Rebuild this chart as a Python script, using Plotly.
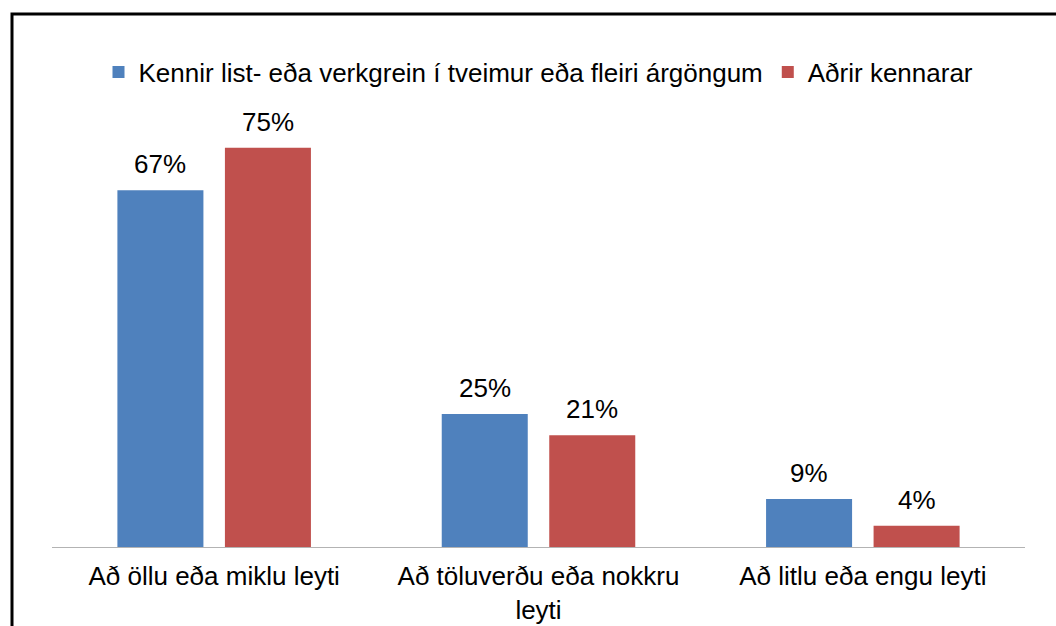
import plotly.graph_objects as go

categories = ["Að öllu eða miklu leyti", "Að töluverðu eða nokkru<br>leyti", "Að litlu eða engu leyti"]
series_names = ["Kennir list- eða verkgrein í tveimur eða fleiri árgöngum", "Aðrir kennarar"]
series_values = [
    [67, 25, 9],
    [75, 21, 4],
]
colors = ["#4F81BD", "#C0504D"]

W, H = 1056, 626
L, R, T, B = 52, 31, 121, 79
BARGAP = 0.337
BARGROUPGAP = 0.2
YMAX = 80
FONT = "Liberation Sans"
FS = 26

fig = go.Figure()
for name, vals, col in zip(series_names, series_values, colors):
    fig.add_trace(go.Bar(x=categories, y=vals, name=name, marker=dict(color=col, line=dict(width=0))))

plot_w = W - L - R
cat_w = plot_w / len(categories)
slot = (1 - BARGAP) * cat_w / len(series_names)
annotations = []
for i, vals in enumerate(series_values):
    off = (i - (len(series_names) - 1) / 2) * slot
    for c, v in zip(categories, vals):
        annotations.append(dict(x=c, y=v, xref="x", yref="y", text=f"{v}%", showarrow=False,
                                xshift=off, yshift=9, yanchor="bottom",
                                font=dict(family=FONT, size=FS, color="#000000")))

plot_h = H - T - B
def px_x(p):
    return (p - L) / plot_w
def px_y(p):
    return (H - B - p) / plot_h

fig.add_shape(type="rect", xref="paper", yref="paper",
              x0=px_x(12), x1=px_x(1070), y0=px_y(660), y1=px_y(14),
              line=dict(color="#000000", width=3), fillcolor="rgba(0,0,0,0)")

fig.update_layout(
    width=W, height=H,
    margin=dict(l=L, r=R, t=T, b=B, autoexpand=False),
    paper_bgcolor="white", plot_bgcolor="white",
    barmode="group", bargap=BARGAP, bargroupgap=BARGROUPGAP,
    font=dict(family=FONT, size=FS, color="#000000"),
    showlegend=True,
    legend=dict(orientation="h", x=0.5, xanchor="center", y=px_y(72), yanchor="middle",
                font=dict(family=FONT, size=FS, color="#000000"), traceorder="normal"),
    annotations=annotations,
    xaxis=dict(showline=True, linecolor="#B3B3B3", linewidth=1, ticks="", showgrid=False,
               automargin=False,
               tickfont=dict(family=FONT, size=FS, color="#000000"), ticklabelstandoff=6),
    yaxis=dict(range=[0, YMAX], visible=False, showgrid=False, zeroline=False, automargin=False),
)

fig.write_html("out.html")
